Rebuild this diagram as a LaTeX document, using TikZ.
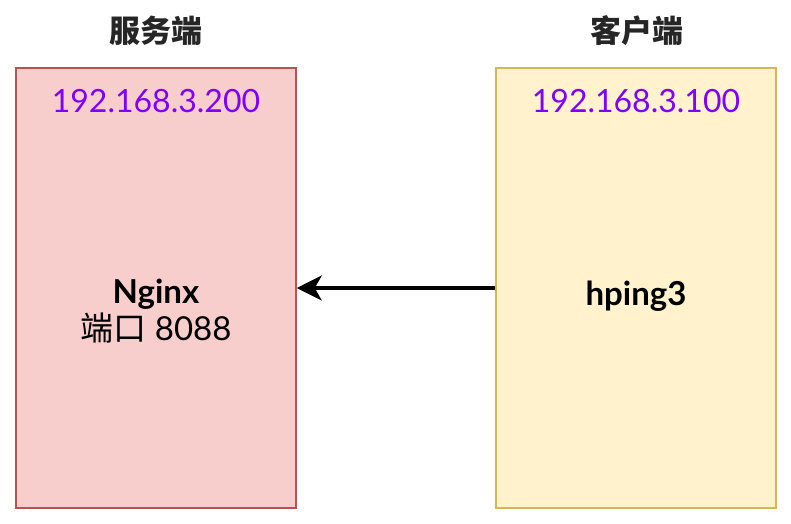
\documentclass[tikz,border=0pt]{standalone}
\usepackage{fontspec}
\setmainfont{Lato}
\newfontfamily\cjk{Noto Sans CJK SC}
\usetikzlibrary{arrows.meta}
\definecolor{redfill}{HTML}{F8CECC}
\definecolor{redline}{HTML}{B85450}
\definecolor{yelfill}{HTML}{FFF2CC}
\definecolor{yelline}{HTML}{D6B656}
\definecolor{ipcol}{HTML}{7F00FF}
\tikzset{
  hostbox/.style={draw, line width=1.5pt, minimum width=280pt, minimum height=440pt, inner sep=0pt},
  title/.style={font=\cjk\bfseries\fontsize{31}{34}\selectfont, text=black!85},
  ip/.style={font=\fontsize{32}{36}\selectfont, text=ipcol},
  label/.style={font=\fontsize{33}{37}\selectfont, align=center},
}
\begin{document}
\begin{tikzpicture}[x=1pt,y=-1pt]
\useasboundingbox (0,0) rectangle (791,523);
\node[hostbox, fill=redfill, draw=redline] (srv) at (156,288) {};
\node[hostbox, fill=yelfill, draw=yelline] (cli) at (636,288) {};
\node[title] (srvt) at (156,31) {服务端};
\node[title] (clit) at (637,31) {客户端};
\node[ip] (srvip) at (156,101) {192.168.3.200};
\node[ip] (cliip) at (636,101) {192.168.3.100};
\node[label] (srvl) at (156,311) {\textbf{Nginx}\\{\cjk 端口} 8088};
\node[label] (clil) at (636,296) {\textbf{hping3}};
\draw[line width=3.5pt, -{Stealth[length=25pt,width=25pt,inset=7pt]}] (cli.west) -- (srv.east);
\end{tikzpicture}
\end{document}
